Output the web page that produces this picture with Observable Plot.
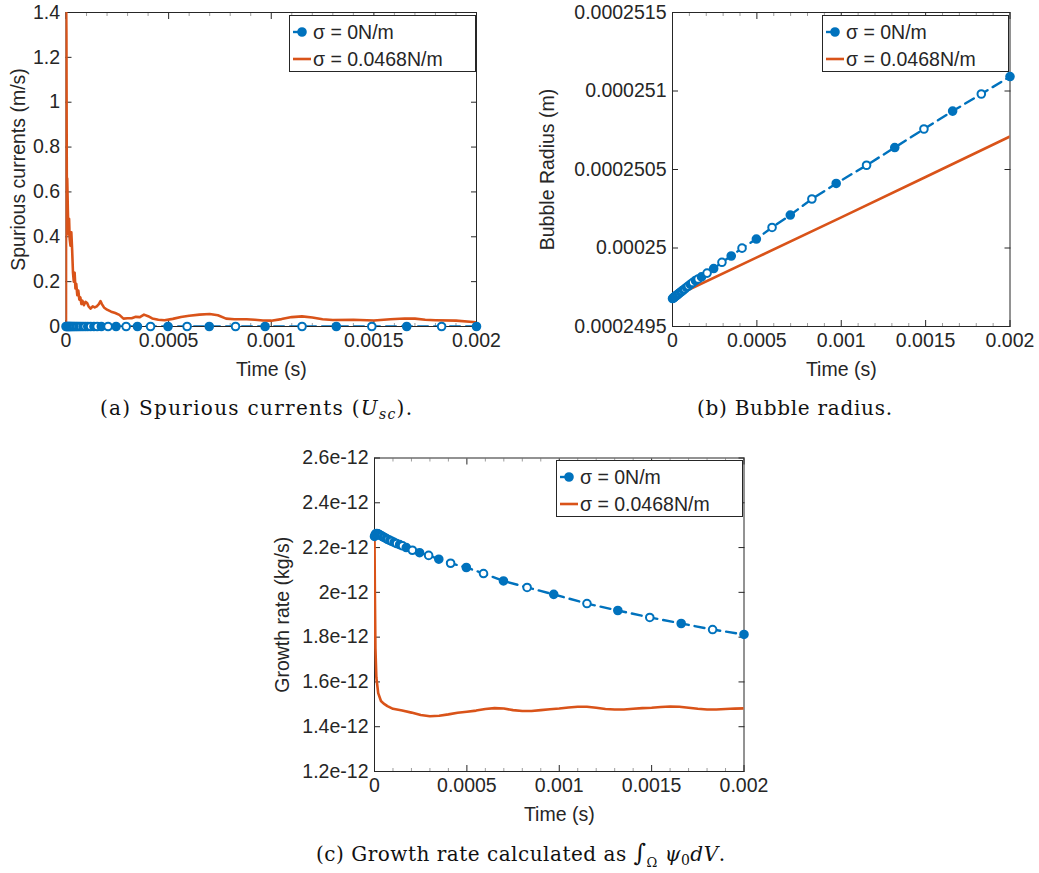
<!DOCTYPE html>
<html><head><meta charset="utf-8">
<script src="https://cdn.jsdelivr.net/npm/d3@7"></script>
<script src="https://cdn.jsdelivr.net/npm/@observablehq/plot@0.6"></script>
<style>
body{margin:0;background:#fff;}
#root{position:relative;width:1039px;height:873px;overflow:hidden;background:#fff;font-family:"Liberation Sans",Arial,sans-serif;}
.abs{position:absolute;}
</style></head><body><div id="root"></div>
<script>
// ---------- data ----------
const markerTime = [0, 0.000004, 0.000008, 0.000012, 0.000016, 0.00002, 0.000025, 0.00003, 0.000036, 0.000042, 0.000049, 0.000056, 0.000064, 0.000073, 0.000083, 0.000094, 0.000106, 0.00012, 0.000136, 0.000152, 0.000172, 0.000205, 0.000244, 0.000293, 0.000348, 0.000412, 0.000497, 0.00059, 0.000698, 0.000826, 0.00097, 0.00115, 0.001317, 0.00149, 0.00166, 0.00183, 0.002];

const spuriousSigma0 = [0,0,0,0,0,0,0,0,0,0,0,0,0,0,0,0,0,0,0,0,0,0,0,0,0,0,0,0,0,0,0,0,0,0,0,0,0];
const spuriousTime = [0, 0.0000008, 0.000002, 0.000004, 0.000006, 0.000009, 0.000012, 0.000015, 0.000018, 0.000022, 0.000026, 0.00003, 0.000034, 0.000038, 0.000042, 0.000046, 0.00005, 0.000055, 0.00006, 0.000065, 0.00007, 0.000075, 0.00008, 0.000087, 0.000095, 0.000103, 0.00011, 0.00012, 0.00013, 0.00014, 0.00015, 0.00016, 0.000168, 0.000175, 0.000185, 0.0002, 0.00022, 0.00024, 0.00026, 0.00028, 0.0003, 0.00032, 0.00034, 0.00036, 0.00038, 0.0004, 0.00042, 0.00045, 0.00048, 0.00052, 0.00056, 0.0006, 0.00065, 0.0007, 0.00074, 0.00078, 0.00082, 0.00088, 0.00092, 0.00096, 0.001, 0.00105, 0.0011, 0.00115, 0.0012, 0.00125, 0.0013, 0.0014, 0.0015, 0.00158, 0.00165, 0.0017, 0.00175, 0.0018, 0.0019, 0.002];
const spuriousSigma = [0, 1.45, 1.3, 0.62, 0.66, 0.52, 0.41, 0.48, 0.39, 0.36, 0.42, 0.34, 0.24, 0.2, 0.24, 0.17, 0.19, 0.14, 0.16, 0.12, 0.13, 0.1, 0.115, 0.095, 0.11, 0.105, 0.09, 0.08, 0.09, 0.085, 0.09, 0.1, 0.113, 0.1, 0.085, 0.075, 0.066, 0.06, 0.052, 0.035, 0.037, 0.037, 0.043, 0.042, 0.053, 0.046, 0.036, 0.03, 0.028, 0.034, 0.042, 0.048, 0.053, 0.056, 0.05, 0.035, 0.032, 0.032, 0.03, 0.027, 0.026, 0.033, 0.042, 0.045, 0.04, 0.032, 0.029, 0.03, 0.027, 0.032, 0.036, 0.035, 0.03, 0.028, 0.026, 0.019];

const radiusSigma0 = [0.000249678, 0.0002496814, 0.0002496848, 0.000249688, 0.0002496916, 0.000249695, 0.000249699, 0.0002497035, 0.0002497086, 0.0002497137, 0.0002497197, 0.0002497256, 0.0002497324, 0.00024974, 0.0002497486, 0.000249758, 0.000249768, 0.00024978, 0.000249793, 0.000249803, 0.000249816, 0.00024984, 0.000249869, 0.000249909, 0.000249949, 0.000249999, 0.000250057, 0.000250131, 0.00025021, 0.000250312, 0.000250411, 0.000250527, 0.00025064, 0.000250758, 0.000250872, 0.000250981, 0.000251092];
const radiusTime = [0, 0.00002, 0.0005, 0.001, 0.0015, 0.002];
const radiusSigma = [0.000249683, 0.000249696, 0.00024994, 0.000250195, 0.000250452, 0.00025071];

const growthSigma0 = [2.25e-12, 2.258e-12, 2.262e-12, 2.263e-12, 2.262e-12, 2.26e-12, 2.258e-12, 2.256e-12, 2.253e-12, 2.25e-12, 2.247e-12, 2.244e-12, 2.24e-12, 2.236e-12, 2.232e-12, 2.228e-12, 2.223e-12, 2.218e-12, 2.213e-12, 2.208e-12, 2.2e-12, 2.188e-12, 2.177e-12, 2.165e-12, 2.148e-12, 2.13e-12, 2.111e-12, 2.084e-12, 2.051e-12, 2.022e-12, 1.991e-12, 1.95e-12, 1.919e-12, 1.888e-12, 1.861e-12, 1.834e-12, 1.812e-12];
const growthTime = [0, 0.000002, 0.000005, 0.00001, 0.00002, 0.000035, 0.00005, 0.00007, 0.0001, 0.00015, 0.0002, 0.00025, 0.0003, 0.00035, 0.0004, 0.00045, 0.0005, 0.00055, 0.0006, 0.00065, 0.0007, 0.00075, 0.0008, 0.00085, 0.0009, 0.00095, 0.001, 0.00105, 0.0011, 0.00115, 0.0012, 0.00125, 0.0013, 0.00135, 0.0014, 0.00145, 0.0015, 0.00155, 0.0016, 0.00165, 0.0017, 0.00175, 0.0018, 0.00185, 0.0019, 0.00195, 0.002];
const growthSigma = [2.25e-12, 2.0e-12, 1.75e-12, 1.62e-12, 1.55e-12, 1.515e-12, 1.503e-12, 1.492e-12, 1.48e-12, 1.472e-12, 1.463e-12, 1.452e-12, 1.447e-12, 1.449e-12, 1.455e-12, 1.462e-12, 1.467e-12, 1.472e-12, 1.479e-12, 1.483e-12, 1.481e-12, 1.474e-12, 1.47e-12, 1.47e-12, 1.474e-12, 1.478e-12, 1.481e-12, 1.486e-12, 1.489e-12, 1.489e-12, 1.485e-12, 1.479e-12, 1.477e-12, 1.477e-12, 1.48e-12, 1.483e-12, 1.485e-12, 1.488e-12, 1.49e-12, 1.489e-12, 1.485e-12, 1.48e-12, 1.477e-12, 1.477e-12, 1.479e-12, 1.481e-12, 1.482e-12];

const xTicks = [0, 0.0005, 0.001, 0.0015, 0.002];
const xTickLabels = ["0", "0.0005", "0.001", "0.0015", "0.002"];
const xMinorTicks = [0.0001, 0.0002, 0.0003, 0.0004, 0.0006, 0.0007, 0.0008, 0.0009, 0.0011, 0.0012, 0.0013, 0.0014, 0.0016, 0.0017, 0.0018, 0.0019];

const yTicksA = [0, 0.2, 0.4, 0.6, 0.8, 1, 1.2, 1.4];
const yTickLabelsA = ["0", "0.2", "0.4", "0.6", "0.8", "1", "1.2", "1.4"];
const yTicksB = [0.0002495, 0.00025, 0.0002505, 0.000251, 0.0002515];
const yTickLabelsB = ["0.0002495", "0.00025", "0.0002505", "0.000251", "0.0002515"];
const yTicksC = [1.2e-12, 1.4e-12, 1.6e-12, 1.8e-12, 2e-12, 2.2e-12, 2.4e-12, 2.6e-12];
const yTickLabelsC = ["1.2e-12", "1.4e-12", "1.6e-12", "1.8e-12", "2e-12", "2.2e-12", "2.4e-12", "2.6e-12"];

const legendLabels = ["σ = 0N/m", "σ = 0.0468N/m"];
const xLabel = "Time (s)";
const yLabels = ["Spurious currents (m/s)", "Bubble Radius (m)", "Growth rate (kg/s)"];

// ---------- style ----------
const AX = "#262626", BLUE = "#0072BD", ORANGE = "#D95319";
const FONT = "'Liberation Sans', Arial, sans-serif";
const root = document.getElementById("root");

function makePanel(cfg) {
  const blueData = markerTime.map((t, i) => ({t, v: cfg.blueV[i], fill: (markerTime.length - 1 - i) % 2 === 0 ? BLUE : "white"}));
  const orangeData = cfg.orangeT.map((t, i) => ({t, v: cfg.orangeV[i]}));
  const fmt = (ticks, labels) => d => labels[ticks.indexOf(d)];
  const svg = Plot.plot({
    width: cfg.width, height: cfg.height,
    marginLeft: cfg.ml, marginRight: cfg.mr, marginTop: cfg.mt, marginBottom: cfg.mb,
    x: {domain: [0, 0.002]},
    y: {domain: cfg.yDomain},
    color: {type: "identity"},
    style: {fontFamily: FONT, fontSize: "19.5px", color: AX, background: "transparent", overflow: "visible"},
    marks: [
      Plot.axisX(xMinorTicks, {anchor: "bottom", tickSize: 3, dy: -3, tickFormat: () => "", label: null, stroke: AX, strokeOpacity: 0.45}),
      Plot.axisX(xMinorTicks, {anchor: "top", tickSize: 3, dy: 3, tickFormat: () => "", label: null, stroke: AX, strokeOpacity: 0.45}),
      Plot.axisX(xTicks, {anchor: "bottom", tickSize: 6, dy: -6, tickFormat: () => "", label: null, stroke: AX}),
      Plot.axisX(xTicks, {anchor: "top", tickSize: 6, dy: 6, tickFormat: () => "", label: null, stroke: AX}),
      Plot.axisY(cfg.yTicks, {anchor: "left", tickSize: 6, dx: 6, tickFormat: () => "", label: null, stroke: AX}),
      Plot.axisY(cfg.yTicks, {anchor: "right", tickSize: 6, dx: -6, tickFormat: () => "", label: null, stroke: AX}),
      Plot.axisX(xTicks, {anchor: "bottom", tickSize: 0, tickPadding: 7, tickFormat: fmt(xTicks, xTickLabels), label: null, fill: AX}),
      Plot.axisY(cfg.yTicks, {anchor: "left", tickSize: 0, tickPadding: 6, tickFormat: fmt(cfg.yTicks, cfg.yTickLabels), label: null, fill: AX}),
      Plot.frame({stroke: AX, strokeWidth: 1}),
      Plot.line(orangeData, {x: "t", y: "v", stroke: ORANGE, strokeWidth: 2.6, clip: true}),
      Plot.line(blueData, {x: "t", y: "v", stroke: BLUE, strokeWidth: 2.4, strokeDasharray: "10,6", clip: true}),
      Plot.dot(blueData, {x: "t", y: "v", r: 3.8, stroke: BLUE, strokeWidth: 2, fill: "fill"}),
      Plot.text([cfg.yLabel], {frameAnchor: "left", textAnchor: "middle", lineAnchor: "middle", rotate: -90, dx: -cfg.yLabelOffset, text: d => d, fill: AX}),
      Plot.text([xLabel], {frameAnchor: "bottom", textAnchor: "middle", lineAnchor: "middle", dy: 43, text: d => d, fill: AX})
    ]
  });
  const wrap = document.createElement("div");
  wrap.className = "abs";
  wrap.style.left = cfg.left + "px";
  wrap.style.top = cfg.top + "px";
  wrap.appendChild(svg);
  root.appendChild(wrap);
}

makePanel({left: 0, top: 0, width: 520, height: 390, ml: 65.5, mr: 44, mt: 12, mb: 64,
  yDomain: [0, 1.4], yTicks: yTicksA, yTickLabels: yTickLabelsA,
  blueV: spuriousSigma0, orangeT: spuriousTime, orangeV: spuriousSigma,
  yLabel: yLabels[0], yLabelOffset: 47});
makePanel({left: 520, top: 0, width: 519, height: 390, ml: 152, mr: 29.5, mt: 12, mb: 64,
  yDomain: [0.0002495, 0.0002515], yTicks: yTicksB, yTickLabels: yTickLabelsB,
  blueV: radiusSigma0, orangeT: radiusTime, orangeV: radiusSigma,
  yLabel: yLabels[1], yLabelOffset: 125});
makePanel({left: 260, top: 440, width: 520, height: 390, ml: 114, mr: 36.5, mt: 17.5, mb: 59,
  yDomain: [1.2e-12, 2.6e-12], yTicks: yTicksC, yTickLabels: yTickLabelsC,
  blueV: growthSigma0, orangeT: growthTime, orangeV: growthSigma,
  yLabel: yLabels[2], yLabelOffset: 91.5});

function legend(x, y) {
  const d = document.createElement("div");
  d.className = "abs";
  d.style.left = x + "px"; d.style.top = y + "px";
  d.innerHTML = `<svg width="188" height="58" style="font-family:${FONT};font-size:19.5px;fill:${AX}">
  <rect x="0.5" y="0.5" width="186" height="56" fill="white" stroke="${AX}" stroke-width="1"/>
  <line x1="4" x2="13" y1="17" y2="17" stroke="${BLUE}" stroke-width="2.4"/>
  <circle cx="13" cy="17" r="3.8" fill="${BLUE}" stroke="${BLUE}" stroke-width="2"/>
  <text x="24" y="17" dy="0.35em">${legendLabels[0]}</text>
  <line x1="4" x2="22" y1="44" y2="44" stroke="${ORANGE}" stroke-width="2.6"/>
  <text x="24" y="44" dy="0.35em">${legendLabels[1]}</text></svg>`;
  root.appendChild(d);
}
legend(289, 15);
legend(822, 15);
legend(556, 460);

// captions
const cap = document.createElement("div");
cap.className = "abs";
cap.style.left = "0px"; cap.style.top = "0px";
cap.innerHTML = `<svg width="1039" height="873" style="font-family:'DejaVu Serif','Liberation Serif',serif;font-size:20px;fill:#111">
<text x="100" y="415" textLength="312" lengthAdjust="spacing">(a) Spurious currents (<tspan font-style="italic">U</tspan><tspan font-style="italic" font-size="14px" dy="4">sc</tspan><tspan dy="-4">).</tspan></text>
<text x="697" y="415" textLength="195" lengthAdjust="spacing">(b) Bubble radius.</text>
<text x="316" y="861" textLength="409" lengthAdjust="spacing">(c) Growth rate calculated as <tspan font-size="24px">∫</tspan><tspan font-size="13px" dy="6">Ω</tspan><tspan dy="-6"> </tspan><tspan font-style="italic">ψ</tspan><tspan font-size="14px" dy="4">0</tspan><tspan font-style="italic" dy="-4">dV</tspan>.</text>
</svg>`;
root.appendChild(cap);
</script></body></html>
